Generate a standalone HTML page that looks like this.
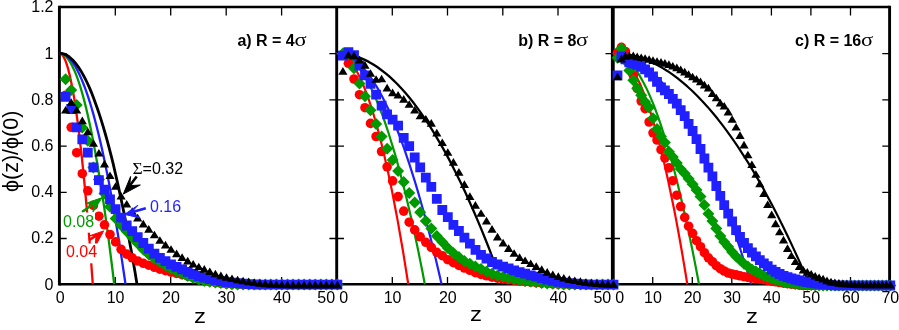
<!DOCTYPE html>
<html><head><meta charset="utf-8"><title>chart</title>
<style>html,body{margin:0;padding:0;background:#fff}svg{display:block;will-change:transform}</style></head>
<body>
<svg width="899" height="330" viewBox="0 0 899 330">
<rect width="899" height="330" fill="#fff"/>
<defs><clipPath id="cp"><rect x="0" y="0" width="899" height="285.4"/></clipPath></defs>
<g stroke="#000" fill="none">
<path d="M59.4 7.0H889.6M59.4 284.2H889.6" stroke-width="2.5"/>
<path d="M59.4 5.75V285.45M336.7 7.0V284.2M889.6 5.75V285.45" stroke-width="2.9"/>
<path d="M612.8 7.0V284.2" stroke-width="3.8"/>
<path d="M115.3 7.0v8.4M115.3 284.2v-7.2M170.7 7.0v8.4M170.7 284.2v-7.2M226.2 7.0v8.4M226.2 284.2v-7.2M281.6 7.0v8.4M281.6 284.2v-7.2M392.3 7.0v8.4M392.3 284.2v-7.2M447.5 7.0v8.4M447.5 284.2v-7.2M502.8 7.0v8.4M502.8 284.2v-7.2M558 7.0v8.4M558 284.2v-7.2M652.7 7.0v8.4M652.7 284.2v-7.2M692.3 7.0v8.4M692.3 284.2v-7.2M731.8 7.0v8.4M731.8 284.2v-7.2M771.4 7.0v8.4M771.4 284.2v-7.2M810.9 7.0v8.4M810.9 284.2v-7.2M850.5 7.0v8.4M850.5 284.2v-7.2M59.4 238.5h7.3M329.4 238.5h14.6M605.5 238.5h14.6M889.6 238.5h-7.3M59.4 192.3h7.3M329.4 192.3h14.6M605.5 192.3h14.6M889.6 192.3h-7.3M59.4 146.1h7.3M329.4 146.1h14.6M605.5 146.1h14.6M889.6 146.1h-7.3M59.4 99.9h7.3M329.4 99.9h14.6M605.5 99.9h14.6M889.6 99.9h-7.3M59.4 53.7h7.3M329.4 53.7h14.6M605.5 53.7h14.6M889.6 53.7h-7.3" stroke-width="1.3"/>
</g>
<g fill="none" stroke-linecap="butt" stroke-linejoin="round" clip-path="url(#cp)">
<polyline points="59.4,53.2 60.3,53.4 61.1,53.8 62,54.6 62.8,55.6 63.7,57 64.5,58.7 65.4,60.6 66.2,62.9 67.1,65.5 68,68.4 68.8,71.6 69.7,75.1 70.5,78.9 71.4,83 72.2,87.4 73.1,92.1 74,97.1 74.8,102.4 75.7,108 76.5,113.9 77.4,120.2 78.2,126.7 79.1,133.5 79.9,140.7 80.8,148.1 81.7,155.9 82.5,163.9 83.4,172.3 84.2,180.9 85.1,189.9 85.9,199.2 86.8,208.7 87.7,218.6 88.5,228.8 89.4,239.2 90.2,250 91.1,261.1 91.9,272.5 92.8,284.2" stroke="#ff0000" stroke-width="2.3"/>
<polyline points="59.4,53.2 60.8,53.4 62.2,53.8 63.6,54.6 65,55.6 66.4,57 67.8,58.7 69.2,60.6 70.6,62.9 72,65.5 73.4,68.4 74.9,71.6 76.3,75.1 77.7,78.9 79.1,83 80.5,87.4 81.9,92.1 83.3,97.1 84.7,102.4 86.1,108 87.5,113.9 88.9,120.2 90.3,126.7 91.7,133.5 93.1,140.7 94.5,148.1 95.9,155.9 97.3,163.9 98.7,172.3 100.1,180.9 101.5,189.9 103,199.2 104.4,208.7 105.8,218.6 107.2,228.8 108.6,239.2 110,250 111.4,261.1 112.8,272.5 114.2,284.2" stroke="#009900" stroke-width="2.3"/>
<polyline points="59.4,53.2 61.1,53.4 62.8,53.8 64.5,54.6 66.2,55.6 67.9,57 69.6,58.7 71.3,60.6 73,62.9 74.7,65.5 76.4,68.4 78,71.6 79.7,75.1 81.4,78.9 83.1,83 84.8,87.4 86.5,92.1 88.2,97.1 89.9,102.4 91.6,108 93.3,113.9 95,120.2 96.7,126.7 98.4,133.5 100.1,140.7 101.8,148.1 103.5,155.9 105.2,163.9 106.9,172.3 108.6,180.9 110.3,189.9 111.9,199.2 113.6,208.7 115.3,218.6 117,228.8 118.7,239.2 120.4,250 122.1,261.1 123.8,272.5 125.5,284.2" stroke="#1f1fff" stroke-width="2.3"/>
<polyline points="59.4,53.2 61.4,53.4 63.4,53.8 65.4,54.6 67.4,55.6 69.4,57 71.3,58.7 73.3,60.6 75.3,62.9 77.3,65.5 79.3,68.4 81.3,71.6 83.3,75.1 85.3,78.9 87.3,83 89.3,87.4 91.3,92.1 93.2,97.1 95.2,102.4 97.2,108 99.2,113.9 101.2,120.2 103.2,126.7 105.2,133.5 107.2,140.7 109.2,148.1 111.2,155.9 113.2,163.9 115.1,172.3 117.1,180.9 119.1,189.9 121.1,199.2 123.1,208.7 125.1,218.6 127.1,228.8 129.1,239.2 131.1,250 133.1,261.1 135.1,272.5 137,284.2" stroke="#000000" stroke-width="2.8"/>
<polyline points="336.7,53.2 338.5,53.4 340.4,53.8 342.2,54.6 344,55.6 345.9,57 347.7,58.7 349.5,60.6 351.4,62.9 353.2,65.5 355.1,68.4 356.9,71.6 358.7,75.1 360.6,78.9 362.4,83 364.2,87.4 366.1,92.1 367.9,97.1 369.7,102.4 371.6,108 373.4,113.9 375.2,120.2 377.1,126.7 378.9,133.5 380.7,140.7 382.6,148.1 384.4,155.9 386.2,163.9 388.1,172.3 389.9,180.9 391.8,189.9 393.6,199.2 395.4,208.7 397.3,218.6 399.1,228.8 400.9,239.2 402.8,250 404.6,261.1 406.4,272.5 408.3,284.2" stroke="#ff0000" stroke-width="2.2"/>
<polyline points="336.7,53.2 339,53.4 341.2,53.8 343.5,54.6 345.7,55.6 348,57 350.3,58.7 352.5,60.6 354.8,62.9 357,65.5 359.3,68.4 361.6,71.6 363.8,75.1 366.1,78.9 368.3,83 370.6,87.4 372.9,92.1 375.1,97.1 377.4,102.4 379.6,108 381.9,113.9 384.2,120.2 386.4,126.7 388.7,133.5 390.9,140.7 393.2,148.1 395.5,155.9 397.7,163.9 400,172.3 402.2,180.9 404.5,189.9 406.8,199.2 409,208.7 411.3,218.6 413.5,228.8 415.8,239.2 418.1,250 420.3,261.1 422.6,272.5 424.8,284.2" stroke="#009900" stroke-width="2.2"/>
<polyline points="336.7,53.2 339.4,53.4 342.1,53.8 344.8,54.6 347.5,55.6 350.2,57 352.8,58.7 355.5,60.6 358.2,62.9 360.9,65.5 363.6,68.4 366.3,71.6 369,75.1 371.7,78.9 374.4,83 377.1,87.4 379.7,92.1 382.4,97.1 385.1,102.4 387.8,108 390.5,113.9 393.2,120.2 395.9,126.7 398.6,133.5 401.3,140.7 404,148.1 406.6,155.9 409.3,163.9 412,172.3 414.7,180.9 417.4,189.9 420.1,199.2 422.8,208.7 425.5,218.6 428.2,228.8 430.9,239.2 433.5,250 436.2,261.1 438.9,272.5 441.6,284.2" stroke="#1f1fff" stroke-width="2.2"/>
<polyline points="336.7,53.2 340.7,53.3 344.7,53.7 348.8,54.4 352.8,55.4 356.8,56.6 360.8,58.1 364.8,59.9 368.9,61.9 372.9,64.2 376.9,66.8 380.9,69.7 385,72.8 389,76.2 393,79.9 397,83.8 401,88 405.1,92.5 409.1,97.3 413.1,102.3 417.1,107.6 421.1,113.2 425.2,119.1 429.2,125.2 433.2,131.6 437.2,138.3 441.2,145.2 445.3,152.4 449.3,159.9 453.3,167.7 457.3,175.7 461.4,184 465.4,192.6 469.4,201.4 473.4,210.5 477.4,219.9 481.5,229.6 485.5,239.5 489.5,249.7 493.5,260.2" stroke="#000000" stroke-width="2.3"/>
<polyline points="612.8,53.2 614.7,53.4 616.6,53.8 618.5,54.6 620.4,55.6 622.4,57 624.3,58.7 626.2,60.6 628.1,62.9 630,65.5 631.9,68.4 633.8,71.6 635.7,75.1 637.6,78.9 639.6,83 641.5,87.4 643.4,92.1 645.3,97.1 647.2,102.4 649.1,108 651,113.9 652.9,120.2 654.8,126.7 656.8,133.5 658.7,140.7 660.6,148.1 662.5,155.9 664.4,163.9 666.3,172.3 668.2,180.9 670.1,189.9 672,199.2 674,208.7 675.9,218.6 677.8,228.8 679.7,239.2 681.6,250 683.5,261.1 685.4,272.5 687.3,284.2" stroke="#ff0000" stroke-width="2.2"/>
<polyline points="612.8,53.2 615,53.4 617.2,53.8 619.4,54.6 621.6,55.6 623.9,57 626.1,58.7 628.3,60.6 630.5,62.9 632.7,65.5 634.9,68.4 637.1,71.6 639.3,75.1 641.5,78.9 643.7,83 646,87.4 648.2,92.1 650.4,97.1 652.6,102.4 654.8,108 657,113.9 659.2,120.2 661.4,126.7 663.6,133.5 665.8,140.7 668.1,148.1 670.3,155.9 672.5,163.9 674.7,172.3 676.9,180.9 679.1,189.9 681.3,199.2 683.5,208.7 685.7,218.6 688,228.8 690.2,239.2 692.4,250 694.6,261.1 696.8,272.5 699,284.2" stroke="#009900" stroke-width="2.2"/>
<polyline points="612.8,53.2 616.3,53.4 619.9,53.8 623.4,54.6 627,55.6 630.5,57 634.1,58.7 637.6,60.6 641.2,62.9 644.7,65.5 648.3,68.4 651.8,71.6 655.4,75.1 658.9,78.9 662.5,83 666,87.4 669.6,92.1 673.1,97.1 676.7,102.4 680.2,108 683.8,113.9 687.3,120.2 690.9,126.7 694.4,133.5 698,140.7 701.5,148.1 705.1,155.9 708.6,163.9 712.2,172.3 715.7,180.9 719.3,189.9 722.8,199.2 726.4,208.7 729.9,218.6 733.5,228.8 737,239.2 740.6,250 744.1,261.1 747.7,272.5 751.2,284.2" stroke="#1f1fff" stroke-width="2.2"/>
<polyline points="612.8,53.2 617.8,53.3 622.8,53.8 627.8,54.5 632.8,55.6 637.7,56.9 642.7,58.6 647.7,60.5 652.7,62.7 657.7,65.3 662.7,68.1 667.7,71.2 672.7,74.6 677.7,78.4 682.6,82.4 687.6,86.7 692.6,91.3 697.6,96.2 702.6,101.4 707.6,106.9 712.6,112.7 717.6,118.8 722.5,125.2 727.5,131.9 732.5,138.9 737.5,146.2 742.5,153.8 747.5,161.7 752.5,169.9 757.5,178.4 762.5,187.1 767.4,196.2 772.4,205.6 777.4,215.3 782.4,225.3 787.4,235.5 792.4,246.1 797.4,257 802.4,268.1 807.4,279.6" stroke="#000000" stroke-width="2.2"/>
</g>
<g fill="#ff0000"><circle cx="65.6" cy="95.2" r="4.8"/><circle cx="71.2" cy="127.3" r="4.8"/><circle cx="76.7" cy="152.7" r="4.8"/><circle cx="82.3" cy="173.7" r="4.8"/><circle cx="87.8" cy="190.8" r="4.8"/><circle cx="93.4" cy="205.4" r="4.8"/><circle cx="98.9" cy="216.2" r="4.8"/><circle cx="104.5" cy="224.8" r="4.8"/><circle cx="110" cy="234.5" r="4.8"/><circle cx="115.6" cy="241.9" r="4.8"/><circle cx="121.1" cy="249.3" r="4.8"/><circle cx="126.7" cy="254.1" r="4.8"/><circle cx="132.2" cy="257.8" r="4.8"/><circle cx="137.7" cy="261" r="4.8"/><circle cx="143.3" cy="263.3" r="4.8"/><circle cx="148.8" cy="265.2" r="4.8"/><circle cx="154.4" cy="267.3" r="4.8"/><circle cx="159.9" cy="269.1" r="4.8"/><circle cx="165.5" cy="270.7" r="4.8"/><circle cx="171" cy="272.1" r="4.8"/><circle cx="176.6" cy="273.4" r="4.8"/><circle cx="182.1" cy="274.7" r="4.8"/><circle cx="187.7" cy="276.2" r="4.8"/><circle cx="193.2" cy="277.7" r="4.8"/><circle cx="198.8" cy="279.1" r="4.8"/><circle cx="204.3" cy="280.4" r="4.8"/><circle cx="209.8" cy="281.6" r="4.8"/><circle cx="215.4" cy="282.5" r="4.8"/><circle cx="220.9" cy="283.3" r="4.8"/><circle cx="226.5" cy="283.9" r="4.8"/><circle cx="232" cy="284.2" r="4.8"/><circle cx="237.6" cy="284.4" r="4.8"/><circle cx="243.1" cy="284.5" r="4.8"/><circle cx="248.7" cy="284.6" r="4.8"/><circle cx="254.2" cy="284.6" r="4.8"/><circle cx="259.8" cy="284.6" r="4.8"/><circle cx="265.3" cy="284.6" r="4.8"/><circle cx="270.8" cy="284.6" r="4.8"/><circle cx="276.4" cy="284.6" r="4.8"/><circle cx="281.9" cy="284.6" r="4.8"/><circle cx="287.5" cy="284.6" r="4.8"/><circle cx="293" cy="284.6" r="4.8"/><circle cx="298.6" cy="284.6" r="4.8"/><circle cx="304.1" cy="284.6" r="4.8"/><circle cx="309.7" cy="284.6" r="4.8"/><circle cx="315.2" cy="284.6" r="4.8"/><circle cx="320.8" cy="284.6" r="4.8"/><circle cx="326.3" cy="284.6" r="4.8"/><circle cx="331.9" cy="284.6" r="4.8"/><circle cx="337.4" cy="284.6" r="4.8"/></g>
<path fill="#009900" d="M65.6 73.2l6.0 6.0l-6.0 6.0l-6.0 -6.0zM71.2 84.1l6.0 6.0l-6.0 6.0l-6.0 -6.0zM76.7 98.9l6.0 6.0l-6.0 6.0l-6.0 -6.0zM82.3 121.5l6.0 6.0l-6.0 6.0l-6.0 -6.0zM87.8 134.7l6.0 6.0l-6.0 6.0l-6.0 -6.0zM93.4 161.5l6.0 6.0l-6.0 6.0l-6.0 -6.0zM98.9 173.5l6.0 6.0l-6.0 6.0l-6.0 -6.0zM104.5 187.4l6.0 6.0l-6.0 6.0l-6.0 -6.0zM110 200.8l6.0 6.0l-6.0 6.0l-6.0 -6.0zM115.6 212.5l6.0 6.0l-6.0 6.0l-6.0 -6.0zM121.1 219.2l6.0 6.0l-6.0 6.0l-6.0 -6.0zM126.7 225.5l6.0 6.0l-6.0 6.0l-6.0 -6.0zM132.2 231.6l6.0 6.0l-6.0 6.0l-6.0 -6.0zM137.7 237.5l6.0 6.0l-6.0 6.0l-6.0 -6.0zM143.3 243.4l6.0 6.0l-6.0 6.0l-6.0 -6.0zM148.8 248.6l6.0 6.0l-6.0 6.0l-6.0 -6.0zM154.4 252.5l6.0 6.0l-6.0 6.0l-6.0 -6.0zM159.9 256l6.0 6.0l-6.0 6.0l-6.0 -6.0zM165.5 259.4l6.0 6.0l-6.0 6.0l-6.0 -6.0zM171 262.7l6.0 6.0l-6.0 6.0l-6.0 -6.0zM176.6 265.2l6.0 6.0l-6.0 6.0l-6.0 -6.0zM182.1 267.7l6.0 6.0l-6.0 6.0l-6.0 -6.0zM187.7 270.1l6.0 6.0l-6.0 6.0l-6.0 -6.0zM193.2 271.9l6.0 6.0l-6.0 6.0l-6.0 -6.0zM198.8 273.5l6.0 6.0l-6.0 6.0l-6.0 -6.0zM204.3 274.9l6.0 6.0l-6.0 6.0l-6.0 -6.0zM209.8 275.8l6.0 6.0l-6.0 6.0l-6.0 -6.0zM215.4 276.5l6.0 6.0l-6.0 6.0l-6.0 -6.0zM220.9 277.1l6.0 6.0l-6.0 6.0l-6.0 -6.0zM226.5 277.7l6.0 6.0l-6.0 6.0l-6.0 -6.0zM232 278.3l6.0 6.0l-6.0 6.0l-6.0 -6.0zM237.6 278.6l6.0 6.0l-6.0 6.0l-6.0 -6.0zM243.1 278.6l6.0 6.0l-6.0 6.0l-6.0 -6.0zM248.7 278.6l6.0 6.0l-6.0 6.0l-6.0 -6.0zM254.2 278.6l6.0 6.0l-6.0 6.0l-6.0 -6.0zM259.8 278.6l6.0 6.0l-6.0 6.0l-6.0 -6.0zM265.3 278.6l6.0 6.0l-6.0 6.0l-6.0 -6.0zM270.8 278.6l6.0 6.0l-6.0 6.0l-6.0 -6.0zM276.4 278.6l6.0 6.0l-6.0 6.0l-6.0 -6.0zM281.9 278.6l6.0 6.0l-6.0 6.0l-6.0 -6.0zM287.5 278.6l6.0 6.0l-6.0 6.0l-6.0 -6.0zM293 278.6l6.0 6.0l-6.0 6.0l-6.0 -6.0zM298.6 278.6l6.0 6.0l-6.0 6.0l-6.0 -6.0zM304.1 278.6l6.0 6.0l-6.0 6.0l-6.0 -6.0zM309.7 278.6l6.0 6.0l-6.0 6.0l-6.0 -6.0zM315.2 278.6l6.0 6.0l-6.0 6.0l-6.0 -6.0zM320.8 278.6l6.0 6.0l-6.0 6.0l-6.0 -6.0zM326.3 278.6l6.0 6.0l-6.0 6.0l-6.0 -6.0zM331.9 278.6l6.0 6.0l-6.0 6.0l-6.0 -6.0zM337.4 278.6l6.0 6.0l-6.0 6.0l-6.0 -6.0z"/>
<path fill="#1f1fff" d="M60.7 91.9h9.8v9.8h-9.8zM66.3 104.1h9.8v9.8h-9.8zM71.8 122.4h9.8v9.8h-9.8zM77.4 134.4h9.8v9.8h-9.8zM82.9 147.8h9.8v9.8h-9.8zM88.5 162.4h9.8v9.8h-9.8zM94 175.3h9.8v9.8h-9.8zM99.6 184.8h9.8v9.8h-9.8zM105.1 194.5h9.8v9.8h-9.8zM110.7 204.2h9.8v9.8h-9.8zM116.2 212.7h9.8v9.8h-9.8zM121.8 220.6h9.8v9.8h-9.8zM127.3 226.3h9.8v9.8h-9.8zM132.8 232.3h9.8v9.8h-9.8zM138.4 238.1h9.8v9.8h-9.8zM143.9 243.7h9.8v9.8h-9.8zM149.5 248.7h9.8v9.8h-9.8zM155 252.9h9.8v9.8h-9.8zM160.6 256.3h9.8v9.8h-9.8zM166.1 259.4h9.8v9.8h-9.8zM171.7 262h9.8v9.8h-9.8zM177.2 264.5h9.8v9.8h-9.8zM182.8 266.9h9.8v9.8h-9.8zM188.3 269.1h9.8v9.8h-9.8zM193.8 271.1h9.8v9.8h-9.8zM199.4 272.8h9.8v9.8h-9.8zM204.9 274.1h9.8v9.8h-9.8zM210.5 275.3h9.8v9.8h-9.8zM216 276.3h9.8v9.8h-9.8zM221.6 277.2h9.8v9.8h-9.8zM227.1 277.8h9.8v9.8h-9.8zM232.7 278.3h9.8v9.8h-9.8zM238.2 278.8h9.8v9.8h-9.8zM243.8 279.2h9.8v9.8h-9.8zM249.3 279.5h9.8v9.8h-9.8zM254.9 279.7h9.8v9.8h-9.8zM260.4 279.7h9.8v9.8h-9.8zM265.9 279.7h9.8v9.8h-9.8zM271.5 279.7h9.8v9.8h-9.8zM277 279.7h9.8v9.8h-9.8zM282.6 279.7h9.8v9.8h-9.8zM288.1 279.7h9.8v9.8h-9.8zM293.7 279.7h9.8v9.8h-9.8zM299.2 279.7h9.8v9.8h-9.8zM304.8 279.7h9.8v9.8h-9.8zM310.3 279.7h9.8v9.8h-9.8zM315.9 279.7h9.8v9.8h-9.8zM321.4 279.7h9.8v9.8h-9.8zM327 279.7h9.8v9.8h-9.8zM332.5 279.7h9.8v9.8h-9.8z"/>
<path fill="#000000" d="M65.6 105.9l4.6 7.6h-9.2zM71.2 98.3l4.6 7.6h-9.2zM76.7 105.9l4.6 7.6h-9.2zM82.3 116.6l4.6 7.6h-9.2zM87.8 127.6l4.6 7.6h-9.2zM93.4 139.2l4.6 7.6h-9.2zM98.9 148.9l4.6 7.6h-9.2zM104.5 159.8l4.6 7.6h-9.2zM110 171.5l4.6 7.6h-9.2zM115.6 182.2l4.6 7.6h-9.2zM121.1 191.9l4.6 7.6h-9.2zM126.7 199.9l4.6 7.6h-9.2zM132.2 207.3l4.6 7.6h-9.2zM137.7 213.8l4.6 7.6h-9.2zM143.3 219.8l4.6 7.6h-9.2zM148.8 225.1l4.6 7.6h-9.2zM154.4 230.7l4.6 7.6h-9.2zM159.9 236.2l4.6 7.6h-9.2zM165.5 240.8l4.6 7.6h-9.2zM171 245.2l4.6 7.6h-9.2zM176.6 249.6l4.6 7.6h-9.2zM182.1 253.3l4.6 7.6h-9.2zM187.7 256.8l4.6 7.6h-9.2zM193.2 260l4.6 7.6h-9.2zM198.8 262.7l4.6 7.6h-9.2zM204.3 265.1l4.6 7.6h-9.2zM209.8 267.5l4.6 7.6h-9.2zM215.4 269.7l4.6 7.6h-9.2zM220.9 271.6l4.6 7.6h-9.2zM226.5 273.2l4.6 7.6h-9.2zM232 274.5l4.6 7.6h-9.2zM237.6 275.7l4.6 7.6h-9.2zM243.1 276.7l4.6 7.6h-9.2zM248.7 277.6l4.6 7.6h-9.2zM254.2 278.4l4.6 7.6h-9.2zM259.8 279.2l4.6 7.6h-9.2zM265.3 279.7l4.6 7.6h-9.2zM270.8 280.1l4.6 7.6h-9.2zM276.4 280.4l4.6 7.6h-9.2zM281.9 280.6l4.6 7.6h-9.2zM287.5 280.7l4.6 7.6h-9.2zM293 280.8l4.6 7.6h-9.2zM298.6 280.8l4.6 7.6h-9.2zM304.1 280.8l4.6 7.6h-9.2zM309.7 280.8l4.6 7.6h-9.2zM315.2 280.8l4.6 7.6h-9.2zM320.8 280.8l4.6 7.6h-9.2zM326.3 280.8l4.6 7.6h-9.2zM331.9 280.8l4.6 7.6h-9.2zM337.4 280.8l4.6 7.6h-9.2z"/>
<g fill="#ff0000"><circle cx="342.9" cy="54.8" r="4.8"/><circle cx="348.4" cy="63.3" r="4.8"/><circle cx="354" cy="79" r="4.8"/><circle cx="359.5" cy="94.7" r="4.8"/><circle cx="365" cy="107.7" r="4.8"/><circle cx="370.5" cy="123.4" r="4.8"/><circle cx="376.1" cy="136.5" r="4.8"/><circle cx="381.6" cy="151.5" r="4.8"/><circle cx="387.1" cy="166.8" r="4.8"/><circle cx="392.6" cy="180.9" r="4.8"/><circle cx="398.1" cy="196.6" r="4.8"/><circle cx="403.7" cy="211.1" r="4.8"/><circle cx="409.2" cy="222.2" r="4.8"/><circle cx="414.7" cy="229.9" r="4.8"/><circle cx="420.2" cy="236.8" r="4.8"/><circle cx="425.8" cy="242.3" r="4.8"/><circle cx="431.3" cy="247.4" r="4.8"/><circle cx="436.8" cy="252.3" r="4.8"/><circle cx="442.3" cy="255.7" r="4.8"/><circle cx="447.8" cy="259.7" r="4.8"/><circle cx="453.4" cy="262.7" r="4.8"/><circle cx="458.9" cy="265.4" r="4.8"/><circle cx="464.4" cy="268" r="4.8"/><circle cx="469.9" cy="270.3" r="4.8"/><circle cx="475.4" cy="272.6" r="4.8"/><circle cx="481" cy="274.4" r="4.8"/><circle cx="486.5" cy="275.8" r="4.8"/><circle cx="492" cy="277.2" r="4.8"/><circle cx="497.5" cy="278.2" r="4.8"/><circle cx="503.1" cy="279.1" r="4.8"/><circle cx="508.6" cy="279.8" r="4.8"/><circle cx="514.1" cy="280.4" r="4.8"/><circle cx="519.6" cy="281" r="4.8"/><circle cx="525.1" cy="281.6" r="4.8"/><circle cx="530.7" cy="282.1" r="4.8"/><circle cx="536.2" cy="282.5" r="4.8"/><circle cx="541.7" cy="283" r="4.8"/><circle cx="547.2" cy="283.4" r="4.8"/><circle cx="552.8" cy="283.8" r="4.8"/><circle cx="558.3" cy="284.1" r="4.8"/><circle cx="563.8" cy="284.4" r="4.8"/><circle cx="569.3" cy="284.6" r="4.8"/><circle cx="574.8" cy="284.6" r="4.8"/><circle cx="580.4" cy="284.6" r="4.8"/><circle cx="585.9" cy="284.6" r="4.8"/><circle cx="591.4" cy="284.6" r="4.8"/><circle cx="596.9" cy="284.6" r="4.8"/><circle cx="602.5" cy="284.6" r="4.8"/><circle cx="608" cy="284.6" r="4.8"/><circle cx="613.5" cy="284.6" r="4.8"/></g>
<path fill="#009900" d="M342.9 47.6l6.0 6.0l-6.0 6.0l-6.0 -6.0zM348.4 47.6l6.0 6.0l-6.0 6.0l-6.0 -6.0zM354 62.2l6.0 6.0l-6.0 6.0l-6.0 -6.0zM359.5 77.6l6.0 6.0l-6.0 6.0l-6.0 -6.0zM365 90.3l6.0 6.0l-6.0 6.0l-6.0 -6.0zM370.5 104.2l6.0 6.0l-6.0 6.0l-6.0 -6.0zM376.1 118.1l6.0 6.0l-6.0 6.0l-6.0 -6.0zM381.6 130.5l6.0 6.0l-6.0 6.0l-6.0 -6.0zM387.1 142.8l6.0 6.0l-6.0 6.0l-6.0 -6.0zM392.6 153.9l6.0 6.0l-6.0 6.0l-6.0 -6.0zM398.1 164.9l6.0 6.0l-6.0 6.0l-6.0 -6.0zM403.7 176l6.0 6.0l-6.0 6.0l-6.0 -6.0zM409.2 186.9l6.0 6.0l-6.0 6.0l-6.0 -6.0zM414.7 196.6l6.0 6.0l-6.0 6.0l-6.0 -6.0zM420.2 206.3l6.0 6.0l-6.0 6.0l-6.0 -6.0zM425.8 215.1l6.0 6.0l-6.0 6.0l-6.0 -6.0zM431.3 222.5l6.0 6.0l-6.0 6.0l-6.0 -6.0zM436.8 230.1l6.0 6.0l-6.0 6.0l-6.0 -6.0zM442.3 236.1l6.0 6.0l-6.0 6.0l-6.0 -6.0zM447.8 242.1l6.0 6.0l-6.0 6.0l-6.0 -6.0zM453.4 247l6.0 6.0l-6.0 6.0l-6.0 -6.0zM458.9 251.1l6.0 6.0l-6.0 6.0l-6.0 -6.0zM464.4 255l6.0 6.0l-6.0 6.0l-6.0 -6.0zM469.9 257.8l6.0 6.0l-6.0 6.0l-6.0 -6.0zM475.4 260.6l6.0 6.0l-6.0 6.0l-6.0 -6.0zM481 262.9l6.0 6.0l-6.0 6.0l-6.0 -6.0zM486.5 265.4l6.0 6.0l-6.0 6.0l-6.0 -6.0zM492 267.7l6.0 6.0l-6.0 6.0l-6.0 -6.0zM497.5 269.4l6.0 6.0l-6.0 6.0l-6.0 -6.0zM503.1 270.7l6.0 6.0l-6.0 6.0l-6.0 -6.0zM508.6 272l6.0 6.0l-6.0 6.0l-6.0 -6.0zM514.1 273.1l6.0 6.0l-6.0 6.0l-6.0 -6.0zM519.6 274l6.0 6.0l-6.0 6.0l-6.0 -6.0zM525.1 274.9l6.0 6.0l-6.0 6.0l-6.0 -6.0zM530.7 275.6l6.0 6.0l-6.0 6.0l-6.0 -6.0zM536.2 276.3l6.0 6.0l-6.0 6.0l-6.0 -6.0zM541.7 276.9l6.0 6.0l-6.0 6.0l-6.0 -6.0zM547.2 277.4l6.0 6.0l-6.0 6.0l-6.0 -6.0zM552.8 277.8l6.0 6.0l-6.0 6.0l-6.0 -6.0zM558.3 278.1l6.0 6.0l-6.0 6.0l-6.0 -6.0zM563.8 278.4l6.0 6.0l-6.0 6.0l-6.0 -6.0zM569.3 278.6l6.0 6.0l-6.0 6.0l-6.0 -6.0zM574.8 278.6l6.0 6.0l-6.0 6.0l-6.0 -6.0zM580.4 278.6l6.0 6.0l-6.0 6.0l-6.0 -6.0zM585.9 278.6l6.0 6.0l-6.0 6.0l-6.0 -6.0zM591.4 278.6l6.0 6.0l-6.0 6.0l-6.0 -6.0zM596.9 278.6l6.0 6.0l-6.0 6.0l-6.0 -6.0zM602.5 278.6l6.0 6.0l-6.0 6.0l-6.0 -6.0zM608 278.6l6.0 6.0l-6.0 6.0l-6.0 -6.0zM613.5 278.6l6.0 6.0l-6.0 6.0l-6.0 -6.0z"/>
<path fill="#1f1fff" d="M338 50.8h9.8v9.8h-9.8zM343.5 47.3h9.8v9.8h-9.8zM349.1 50.3h9.8v9.8h-9.8zM354.6 60.7h9.8v9.8h-9.8zM360.1 70.4h9.8v9.8h-9.8zM365.6 79h9.8v9.8h-9.8zM371.2 89.8h9.8v9.8h-9.8zM376.7 100.7h9.8v9.8h-9.8zM382.2 109.5h9.8v9.8h-9.8zM387.7 114.8h9.8v9.8h-9.8zM393.2 120.8h9.8v9.8h-9.8zM398.8 133h9.8v9.8h-9.8zM404.3 141.3h9.8v9.8h-9.8zM409.8 152.6h9.8v9.8h-9.8zM415.3 162.4h9.8v9.8h-9.8zM420.9 172.7h9.8v9.8h-9.8zM426.4 182h9.8v9.8h-9.8zM431.9 194h9.8v9.8h-9.8zM437.4 205.1h9.8v9.8h-9.8zM442.9 212.2h9.8v9.8h-9.8zM448.5 219.9h9.8v9.8h-9.8zM454 226.1h9.8v9.8h-9.8zM459.5 232.8h9.8v9.8h-9.8zM465 238.8h9.8v9.8h-9.8zM470.6 245h9.8v9.8h-9.8zM476.1 249.9h9.8v9.8h-9.8zM481.6 253.6h9.8v9.8h-9.8zM487.1 257.1h9.8v9.8h-9.8zM492.6 259.6h9.8v9.8h-9.8zM498.2 261.7h9.8v9.8h-9.8zM503.7 263.6h9.8v9.8h-9.8zM509.2 265.4h9.8v9.8h-9.8zM514.7 267.2h9.8v9.8h-9.8zM520.2 268.8h9.8v9.8h-9.8zM525.8 270.4h9.8v9.8h-9.8zM531.3 271.8h9.8v9.8h-9.8zM536.8 273.3h9.8v9.8h-9.8zM542.3 274.6h9.8v9.8h-9.8zM547.9 275.9h9.8v9.8h-9.8zM553.4 276.9h9.8v9.8h-9.8zM558.9 277.7h9.8v9.8h-9.8zM564.4 278.3h9.8v9.8h-9.8zM569.9 278.8h9.8v9.8h-9.8zM575.5 279.2h9.8v9.8h-9.8zM581 279.5h9.8v9.8h-9.8zM586.5 279.7h9.8v9.8h-9.8zM592 279.7h9.8v9.8h-9.8zM597.6 279.7h9.8v9.8h-9.8zM603.1 279.7h9.8v9.8h-9.8zM608.6 279.7h9.8v9.8h-9.8z"/>
<path fill="#000000" d="M342.9 67.1l4.6 7.6h-9.2zM348.4 51l4.6 7.6h-9.2zM354 51.6l4.6 7.6h-9.2zM359.5 55.8l4.6 7.6h-9.2zM365 61.1l4.6 7.6h-9.2zM370.5 69.2l4.6 7.6h-9.2zM376.1 75.2l4.6 7.6h-9.2zM381.6 74.7l4.6 7.6h-9.2zM387.1 83.8l4.6 7.6h-9.2zM392.6 88.6l4.6 7.6h-9.2zM398.1 90.9l4.6 7.6h-9.2zM403.7 95.1l4.6 7.6h-9.2zM409.2 100.2l4.6 7.6h-9.2zM414.7 105.9l4.6 7.6h-9.2zM420.2 111.7l4.6 7.6h-9.2zM425.8 114.9l4.6 7.6h-9.2zM431.3 119.1l4.6 7.6h-9.2zM436.8 128.8l4.6 7.6h-9.2zM442.3 138.5l4.6 7.6h-9.2zM447.8 148.2l4.6 7.6h-9.2zM453.4 158.1l4.6 7.6h-9.2zM458.9 168.1l4.6 7.6h-9.2zM464.4 180.3l4.6 7.6h-9.2zM469.9 192.3l4.6 7.6h-9.2zM475.4 201.1l4.6 7.6h-9.2zM481 209.2l4.6 7.6h-9.2zM486.5 216.8l4.6 7.6h-9.2zM492 225.1l4.6 7.6h-9.2zM497.5 232.8l4.6 7.6h-9.2zM503.1 238.8l4.6 7.6h-9.2zM508.6 244.3l4.6 7.6h-9.2zM514.1 249.2l4.6 7.6h-9.2zM519.6 253.3l4.6 7.6h-9.2zM525.1 256.5l4.6 7.6h-9.2zM530.7 259.5l4.6 7.6h-9.2zM536.2 262.3l4.6 7.6h-9.2zM541.7 265.3l4.6 7.6h-9.2zM547.2 268.1l4.6 7.6h-9.2zM552.8 270.4l4.6 7.6h-9.2zM558.3 272.3l4.6 7.6h-9.2zM563.8 273.9l4.6 7.6h-9.2zM569.3 275.3l4.6 7.6h-9.2zM574.8 276.4l4.6 7.6h-9.2zM580.4 277.3l4.6 7.6h-9.2zM585.9 278.3l4.6 7.6h-9.2zM591.4 279l4.6 7.6h-9.2zM596.9 279.4l4.6 7.6h-9.2zM602.5 279.9l4.6 7.6h-9.2zM608 280.1l4.6 7.6h-9.2zM613.5 280.3l4.6 7.6h-9.2z"/>
<g fill="#ff0000"><circle cx="617.5" cy="52.9" r="4.8"/><circle cx="621.4" cy="47.4" r="4.8"/><circle cx="625.4" cy="51.5" r="4.8"/><circle cx="629.3" cy="62.8" r="4.8"/><circle cx="633.3" cy="75.3" r="4.8"/><circle cx="637.2" cy="88.5" r="4.8"/><circle cx="641.2" cy="101" r="4.8"/><circle cx="645.1" cy="108.6" r="4.8"/><circle cx="649.1" cy="122" r="4.8"/><circle cx="653" cy="132.8" r="4.8"/><circle cx="657" cy="140" r="4.8"/><circle cx="661" cy="149.7" r="4.8"/><circle cx="664.9" cy="158" r="4.8"/><circle cx="668.9" cy="167.9" r="4.8"/><circle cx="672.8" cy="180.7" r="4.8"/><circle cx="676.8" cy="195.2" r="4.8"/><circle cx="680.7" cy="206.5" r="4.8"/><circle cx="684.7" cy="217.4" r="4.8"/><circle cx="688.6" cy="226.2" r="4.8"/><circle cx="692.6" cy="233.3" r="4.8"/><circle cx="696.5" cy="240.7" r="4.8"/><circle cx="700.5" cy="246.7" r="4.8"/><circle cx="704.4" cy="252.7" r="4.8"/><circle cx="708.4" cy="257.8" r="4.8"/><circle cx="712.4" cy="261.7" r="4.8"/><circle cx="716.3" cy="265.7" r="4.8"/><circle cx="720.3" cy="268.7" r="4.8"/><circle cx="724.2" cy="271" r="4.8"/><circle cx="728.2" cy="273" r="4.8"/><circle cx="732.1" cy="274" r="4.8"/><circle cx="736.1" cy="274.9" r="4.8"/><circle cx="740" cy="275.8" r="4.8"/><circle cx="744" cy="276.7" r="4.8"/><circle cx="747.9" cy="277.4" r="4.8"/><circle cx="751.9" cy="278" r="4.8"/><circle cx="755.9" cy="278.6" r="4.8"/><circle cx="759.8" cy="279.2" r="4.8"/><circle cx="763.8" cy="279.7" r="4.8"/><circle cx="767.7" cy="280.4" r="4.8"/><circle cx="771.7" cy="281.1" r="4.8"/><circle cx="775.6" cy="281.8" r="4.8"/><circle cx="779.6" cy="282.5" r="4.8"/><circle cx="783.5" cy="283.1" r="4.8"/><circle cx="787.5" cy="283.7" r="4.8"/><circle cx="791.4" cy="284.2" r="4.8"/><circle cx="795.4" cy="284.6" r="4.8"/><circle cx="799.4" cy="285.2" r="4.8"/><circle cx="803.3" cy="285.5" r="4.8"/><circle cx="807.3" cy="285.5" r="4.8"/><circle cx="811.2" cy="285.5" r="4.8"/><circle cx="815.2" cy="285.5" r="4.8"/><circle cx="819.1" cy="285.5" r="4.8"/><circle cx="823.1" cy="285.5" r="4.8"/><circle cx="827" cy="285.5" r="4.8"/><circle cx="831" cy="285.5" r="4.8"/><circle cx="834.9" cy="285.5" r="4.8"/><circle cx="838.9" cy="285.5" r="4.8"/><circle cx="842.8" cy="285.5" r="4.8"/><circle cx="846.8" cy="285.5" r="4.8"/><circle cx="850.8" cy="285.5" r="4.8"/><circle cx="854.7" cy="285.5" r="4.8"/><circle cx="858.7" cy="285.5" r="4.8"/><circle cx="862.6" cy="285.5" r="4.8"/><circle cx="866.6" cy="285.5" r="4.8"/><circle cx="870.5" cy="285.5" r="4.8"/><circle cx="874.5" cy="285.5" r="4.8"/><circle cx="878.4" cy="285.5" r="4.8"/><circle cx="882.4" cy="285.5" r="4.8"/><circle cx="886.3" cy="285.5" r="4.8"/><circle cx="890.3" cy="285.5" r="4.8"/></g>
<path fill="#009900" d="M617.5 51.8l6.0 6.0l-6.0 6.0l-6.0 -6.0zM621.4 42.5l6.0 6.0l-6.0 6.0l-6.0 -6.0zM625.4 54.5l6.0 6.0l-6.0 6.0l-6.0 -6.0zM629.3 64.5l6.0 6.0l-6.0 6.0l-6.0 -6.0zM633.3 74.2l6.0 6.0l-6.0 6.0l-6.0 -6.0zM637.2 82.2l6.0 6.0l-6.0 6.0l-6.0 -6.0zM641.2 89.2l6.0 6.0l-6.0 6.0l-6.0 -6.0zM645.1 96.1l6.0 6.0l-6.0 6.0l-6.0 -6.0zM649.1 101.4l6.0 6.0l-6.0 6.0l-6.0 -6.0zM653 112.3l6.0 6.0l-6.0 6.0l-6.0 -6.0zM657 123.1l6.0 6.0l-6.0 6.0l-6.0 -6.0zM661 130.5l6.0 6.0l-6.0 6.0l-6.0 -6.0zM664.9 136.5l6.0 6.0l-6.0 6.0l-6.0 -6.0zM668.9 145.8l6.0 6.0l-6.0 6.0l-6.0 -6.0zM672.8 151.1l6.0 6.0l-6.0 6.0l-6.0 -6.0zM676.8 156.9l6.0 6.0l-6.0 6.0l-6.0 -6.0zM680.7 163.1l6.0 6.0l-6.0 6.0l-6.0 -6.0zM684.7 167.5l6.0 6.0l-6.0 6.0l-6.0 -6.0zM688.6 172.7l6.0 6.0l-6.0 6.0l-6.0 -6.0zM692.6 178.3l6.0 6.0l-6.0 6.0l-6.0 -6.0zM696.5 184.1l6.0 6.0l-6.0 6.0l-6.0 -6.0zM700.5 190.6l6.0 6.0l-6.0 6.0l-6.0 -6.0zM704.4 199l6.0 6.0l-6.0 6.0l-6.0 -6.0zM708.4 207.7l6.0 6.0l-6.0 6.0l-6.0 -6.0zM712.4 215.1l6.0 6.0l-6.0 6.0l-6.0 -6.0zM716.3 222.5l6.0 6.0l-6.0 6.0l-6.0 -6.0zM720.3 229.9l6.0 6.0l-6.0 6.0l-6.0 -6.0zM724.2 235.9l6.0 6.0l-6.0 6.0l-6.0 -6.0zM728.2 240.7l6.0 6.0l-6.0 6.0l-6.0 -6.0zM732.1 246l6.0 6.0l-6.0 6.0l-6.0 -6.0zM736.1 250.4l6.0 6.0l-6.0 6.0l-6.0 -6.0zM740 254.1l6.0 6.0l-6.0 6.0l-6.0 -6.0zM744 257.8l6.0 6.0l-6.0 6.0l-6.0 -6.0zM747.9 260.6l6.0 6.0l-6.0 6.0l-6.0 -6.0zM751.9 263.4l6.0 6.0l-6.0 6.0l-6.0 -6.0zM755.9 265.4l6.0 6.0l-6.0 6.0l-6.0 -6.0zM759.8 267.5l6.0 6.0l-6.0 6.0l-6.0 -6.0zM763.8 269.4l6.0 6.0l-6.0 6.0l-6.0 -6.0zM767.7 270.9l6.0 6.0l-6.0 6.0l-6.0 -6.0zM771.7 272.4l6.0 6.0l-6.0 6.0l-6.0 -6.0zM775.6 273.7l6.0 6.0l-6.0 6.0l-6.0 -6.0zM779.6 274.9l6.0 6.0l-6.0 6.0l-6.0 -6.0zM783.5 275.8l6.0 6.0l-6.0 6.0l-6.0 -6.0zM787.5 276.5l6.0 6.0l-6.0 6.0l-6.0 -6.0zM791.4 277.2l6.0 6.0l-6.0 6.0l-6.0 -6.0zM795.4 277.7l6.0 6.0l-6.0 6.0l-6.0 -6.0zM799.4 278l6.0 6.0l-6.0 6.0l-6.0 -6.0zM803.3 278.4l6.0 6.0l-6.0 6.0l-6.0 -6.0zM807.3 278.8l6.0 6.0l-6.0 6.0l-6.0 -6.0zM811.2 279.1l6.0 6.0l-6.0 6.0l-6.0 -6.0zM815.2 279.2l6.0 6.0l-6.0 6.0l-6.0 -6.0zM819.1 279.4l6.0 6.0l-6.0 6.0l-6.0 -6.0zM823.1 279.5l6.0 6.0l-6.0 6.0l-6.0 -6.0zM827 279.5l6.0 6.0l-6.0 6.0l-6.0 -6.0zM831 279.5l6.0 6.0l-6.0 6.0l-6.0 -6.0zM834.9 279.5l6.0 6.0l-6.0 6.0l-6.0 -6.0zM838.9 279.5l6.0 6.0l-6.0 6.0l-6.0 -6.0zM842.8 279.5l6.0 6.0l-6.0 6.0l-6.0 -6.0zM846.8 279.5l6.0 6.0l-6.0 6.0l-6.0 -6.0zM850.8 279.5l6.0 6.0l-6.0 6.0l-6.0 -6.0zM854.7 279.5l6.0 6.0l-6.0 6.0l-6.0 -6.0zM858.7 279.5l6.0 6.0l-6.0 6.0l-6.0 -6.0zM862.6 279.5l6.0 6.0l-6.0 6.0l-6.0 -6.0zM866.6 279.5l6.0 6.0l-6.0 6.0l-6.0 -6.0zM870.5 279.5l6.0 6.0l-6.0 6.0l-6.0 -6.0zM874.5 279.5l6.0 6.0l-6.0 6.0l-6.0 -6.0zM878.4 279.5l6.0 6.0l-6.0 6.0l-6.0 -6.0zM882.4 279.5l6.0 6.0l-6.0 6.0l-6.0 -6.0zM886.3 279.5l6.0 6.0l-6.0 6.0l-6.0 -6.0zM890.3 279.5l6.0 6.0l-6.0 6.0l-6.0 -6.0z"/>
<path fill="#1f1fff" d="M612.6 70.4h9.8v9.8h-9.8zM616.5 51.5h9.8v9.8h-9.8zM620.5 54.5h9.8v9.8h-9.8zM624.4 57.5h9.8v9.8h-9.8zM628.4 58.8h9.8v9.8h-9.8zM632.3 60h9.8v9.8h-9.8zM636.3 61.9h9.8v9.8h-9.8zM640.2 64.4h9.8v9.8h-9.8zM644.2 67.6h9.8v9.8h-9.8zM648.1 71.6h9.8v9.8h-9.8zM652.1 76.9h9.8v9.8h-9.8zM656.1 82.4h9.8v9.8h-9.8zM660 85.4h9.8v9.8h-9.8zM664 89.1h9.8v9.8h-9.8zM667.9 94h9.8v9.8h-9.8zM671.9 98.8h9.8v9.8h-9.8zM675.8 105.3h9.8v9.8h-9.8zM679.8 111.3h9.8v9.8h-9.8zM683.7 118.9h9.8v9.8h-9.8zM687.7 126.1h9.8v9.8h-9.8zM691.6 134.2h9.8v9.8h-9.8zM695.6 144.1h9.8v9.8h-9.8zM699.5 153.6h9.8v9.8h-9.8zM703.5 162.8h9.8v9.8h-9.8zM707.5 171.4h9.8v9.8h-9.8zM711.4 181.1h9.8v9.8h-9.8zM715.4 191h9.8v9.8h-9.8zM719.3 200.2h9.8v9.8h-9.8zM723.3 208.8h9.8v9.8h-9.8zM727.2 216.6h9.8v9.8h-9.8zM731.2 225.2h9.8v9.8h-9.8zM735.1 231.9h9.8v9.8h-9.8zM739.1 237.9h9.8v9.8h-9.8zM743 243.2h9.8v9.8h-9.8zM747 247.6h9.8v9.8h-9.8zM751 251.5h9.8v9.8h-9.8zM754.9 255.2h9.8v9.8h-9.8zM758.9 258.4h9.8v9.8h-9.8zM762.8 261.2h9.8v9.8h-9.8zM766.8 264.7h9.8v9.8h-9.8zM770.7 267h9.8v9.8h-9.8zM774.7 269.1h9.8v9.8h-9.8zM778.6 270.9h9.8v9.8h-9.8zM782.6 272.3h9.8v9.8h-9.8zM786.5 273.5h9.8v9.8h-9.8zM790.5 274.6h9.8v9.8h-9.8zM794.5 275.6h9.8v9.8h-9.8zM798.4 276.5h9.8v9.8h-9.8zM802.4 277.2h9.8v9.8h-9.8zM806.3 277.9h9.8v9.8h-9.8zM810.3 278.5h9.8v9.8h-9.8zM814.2 279h9.8v9.8h-9.8zM818.2 279.4h9.8v9.8h-9.8zM822.1 279.7h9.8v9.8h-9.8zM826.1 280.1h9.8v9.8h-9.8zM830 280.4h9.8v9.8h-9.8zM834 280.6h9.8v9.8h-9.8zM837.9 280.6h9.8v9.8h-9.8zM841.9 280.6h9.8v9.8h-9.8zM845.9 280.6h9.8v9.8h-9.8zM849.8 280.6h9.8v9.8h-9.8zM853.8 280.6h9.8v9.8h-9.8zM857.7 280.6h9.8v9.8h-9.8zM861.7 280.6h9.8v9.8h-9.8zM865.6 280.6h9.8v9.8h-9.8zM869.6 280.6h9.8v9.8h-9.8zM873.5 280.6h9.8v9.8h-9.8zM877.5 280.6h9.8v9.8h-9.8zM881.4 280.6h9.8v9.8h-9.8zM885.4 280.6h9.8v9.8h-9.8z"/>
<path fill="#000000" d="M617.5 72.7l4.6 7.6h-9.2zM621.4 54.9l4.6 7.6h-9.2zM625.4 52.1l4.6 7.6h-9.2zM629.3 51.6l4.6 7.6h-9.2zM633.3 51.6l4.6 7.6h-9.2zM637.2 52.6l4.6 7.6h-9.2zM641.2 53.4l4.6 7.6h-9.2zM645.1 54.2l4.6 7.6h-9.2zM649.1 55.2l4.6 7.6h-9.2zM653 56.3l4.6 7.6h-9.2zM657 57.2l4.6 7.6h-9.2zM661 58.1l4.6 7.6h-9.2zM664.9 59.1l4.6 7.6h-9.2zM668.9 60.3l4.6 7.6h-9.2zM672.8 61.9l4.6 7.6h-9.2zM676.8 63.6l4.6 7.6h-9.2zM680.7 65.6l4.6 7.6h-9.2zM684.7 67.8l4.6 7.6h-9.2zM688.6 70.2l4.6 7.6h-9.2zM692.6 72.7l4.6 7.6h-9.2zM696.5 75l4.6 7.6h-9.2zM700.5 77.6l4.6 7.6h-9.2zM704.4 80.8l4.6 7.6h-9.2zM708.4 83.8l4.6 7.6h-9.2zM712.4 89.5l4.6 7.6h-9.2zM716.3 93.7l4.6 7.6h-9.2zM720.3 98.8l4.6 7.6h-9.2zM724.2 102l4.6 7.6h-9.2zM728.2 107.8l4.6 7.6h-9.2zM732.1 115.2l4.6 7.6h-9.2zM736.1 123l4.6 7.6h-9.2zM740 131.3l4.6 7.6h-9.2zM744 140.8l4.6 7.6h-9.2zM747.9 150.7l4.6 7.6h-9.2zM751.9 160.4l4.6 7.6h-9.2zM755.9 170.2l4.6 7.6h-9.2zM759.8 179.6l4.6 7.6h-9.2zM763.8 189.3l4.6 7.6h-9.2zM767.7 200.4l4.6 7.6h-9.2zM771.7 210.6l4.6 7.6h-9.2zM775.6 219.6l4.6 7.6h-9.2zM779.6 227.7l4.6 7.6h-9.2zM783.5 235.8l4.6 7.6h-9.2zM787.5 244.3l4.6 7.6h-9.2zM791.4 251.5l4.6 7.6h-9.2zM795.4 257.5l4.6 7.6h-9.2zM799.4 262.3l4.6 7.6h-9.2zM803.3 266l4.6 7.6h-9.2zM807.3 268.1l4.6 7.6h-9.2zM811.2 269.9l4.6 7.6h-9.2zM815.2 272l4.6 7.6h-9.2zM819.1 273.4l4.6 7.6h-9.2zM823.1 274.8l4.6 7.6h-9.2zM827 276.6l4.6 7.6h-9.2zM831 277.8l4.6 7.6h-9.2zM834.9 278.5l4.6 7.6h-9.2zM838.9 279.1l4.6 7.6h-9.2zM842.8 279.6l4.6 7.6h-9.2zM846.8 279.9l4.6 7.6h-9.2zM850.8 280.1l4.6 7.6h-9.2zM854.7 280.4l4.6 7.6h-9.2zM858.7 280.6l4.6 7.6h-9.2zM862.6 280.7l4.6 7.6h-9.2zM866.6 280.8l4.6 7.6h-9.2zM870.5 280.8l4.6 7.6h-9.2zM874.5 280.8l4.6 7.6h-9.2zM878.4 280.8l4.6 7.6h-9.2zM882.4 280.8l4.6 7.6h-9.2zM886.3 280.8l4.6 7.6h-9.2zM890.3 280.8l4.6 7.6h-9.2z"/>
<g font-family="Liberation Sans, sans-serif" font-size="16" fill="#000">
<text x="53.5" y="289.5" text-anchor="end">0</text>
<text x="53.5" y="243.3" text-anchor="end">0.2</text>
<text x="53.5" y="197.1" text-anchor="end">0.4</text>
<text x="53.5" y="150.9" text-anchor="end">0.6</text>
<text x="53.5" y="104.7" text-anchor="end">0.8</text>
<text x="53.5" y="58.5" text-anchor="end">1</text>
<text x="53.5" y="12.3" text-anchor="end">1.2</text>
<text x="60.1" y="303.2" text-anchor="middle">0</text>
<text x="115.6" y="303.2" text-anchor="middle">10</text>
<text x="171" y="303.2" text-anchor="middle">20</text>
<text x="226.5" y="303.2" text-anchor="middle">30</text>
<text x="281.9" y="303.2" text-anchor="middle">40</text>
<text x="326.2" y="303.2" text-anchor="middle">50</text>
<text x="343.7" y="303.2" text-anchor="middle">0</text>
<text x="392.6" y="303.2" text-anchor="middle">10</text>
<text x="447.8" y="303.2" text-anchor="middle">20</text>
<text x="503.1" y="303.2" text-anchor="middle">30</text>
<text x="558.3" y="303.2" text-anchor="middle">40</text>
<text x="602.3" y="303.2" text-anchor="middle">50</text>
<text x="619.8" y="303.2" text-anchor="middle">0</text>
<text x="653" y="303.2" text-anchor="middle">10</text>
<text x="692.6" y="303.2" text-anchor="middle">20</text>
<text x="732.1" y="303.2" text-anchor="middle">30</text>
<text x="771.7" y="303.2" text-anchor="middle">40</text>
<text x="811.2" y="303.2" text-anchor="middle">50</text>
<text x="850.8" y="303.2" text-anchor="middle">60</text>
<text x="890.3" y="303.2" text-anchor="middle">70</text>
</g>
<g font-family="Liberation Sans, sans-serif" fill="#000" text-anchor="middle">
<text transform="translate(200 323.4) scale(1.2 1)" font-size="20">z</text>
<text transform="translate(476.1 321.4) scale(1.2 1)" font-size="20">z</text>
<text transform="translate(752 322.6) scale(1.2 1)" font-size="20">z</text>
<text transform="translate(17.5 151.3) rotate(-90)" font-size="21.5">ϕ(z)/ϕ(0)</text>
</g>
<g font-family="Liberation Sans, sans-serif" font-size="16" font-weight="bold" fill="#000">
<text x="237.4" y="45.8">a) R = 4</text>
<text transform="translate(294.4 45.8) scale(1.25 1)" font-family="Liberation Serif, serif" font-weight="normal" font-size="18">σ</text>
<text x="518.2" y="45.8">b) R = 8</text>
<text transform="translate(576 45.8) scale(1.25 1)" font-family="Liberation Serif, serif" font-weight="normal" font-size="18">σ</text>
<text x="795.0" y="45.8">c) R = 16</text>
<text transform="translate(860.9 45.8) scale(1.25 1)" font-family="Liberation Serif, serif" font-weight="normal" font-size="18">σ</text>
</g>
<path d="M89.1 240.1L96 235.7" stroke="#ff0000" stroke-width="2.5" fill="none"/><path d="M103.6 230.9L89.7 235.8L96 235.7L95.2 246.6z" fill="#ff0000" stroke="#ff0000" stroke-width="1.0" stroke-linejoin="miter"/>
<path d="M82.1 212.1L93.6 203.8" stroke="#009900" stroke-width="2.5" fill="none"/><path d="M102.1 197.6L85.2 203.6L93.6 203.8L93 212.1z" fill="#009900" stroke="#009900" stroke-width="1.0" stroke-linejoin="miter"/>
<rect x="62" y="212.5" width="33" height="20.2" fill="#fff"/>
<rect x="65" y="243.5" width="33" height="19.8" fill="#fff"/>
<path d="M136.7 176.5L129.7 185.7" stroke="#000000" stroke-width="2.6" fill="none"/><path d="M123.3 194.1L130.6 176.5L129.7 185.7L140.3 185z" fill="#000000" stroke="#000000" stroke-width="1.0" stroke-linejoin="miter"/>
<path d="M145.8 208.3L131.7 212.3" stroke="#1f1fff" stroke-width="2.5" fill="none"/><path d="M124.5 214.4L137.9 205.3L131.7 212.3L140.3 218z" fill="#1f1fff" stroke="#1f1fff" stroke-width="1.0" stroke-linejoin="miter"/>
<g font-family="Liberation Sans, sans-serif" font-size="16">
<text x="132.4" y="173.9" fill="#000"><tspan font-family="Liberation Serif, serif" font-size="17.5">Σ</tspan>=0.32</text>
<text x="150" y="212.3" fill="#1f1fff">0.16</text>
<text x="63" y="227.3" fill="#009900">0.08</text>
<text x="66" y="257" fill="#ff0000">0.04</text>
</g>
</svg>
</body></html>
